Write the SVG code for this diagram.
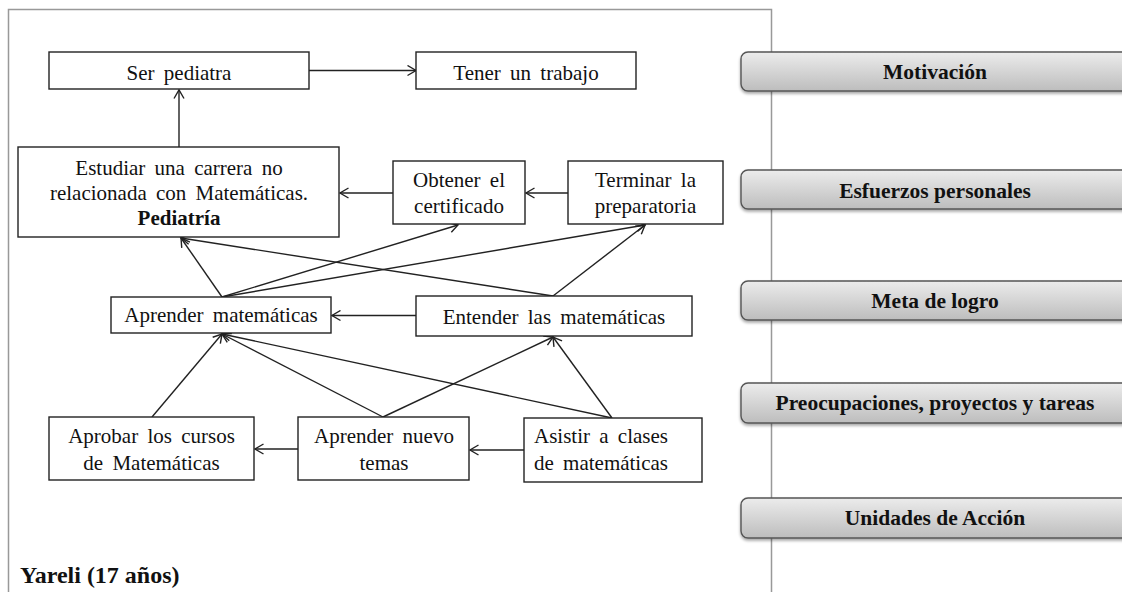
<svg xmlns="http://www.w3.org/2000/svg" width="1122" height="592" viewBox="0 0 1122 592">
  <defs>
    <marker id="open-arrow" markerUnits="userSpaceOnUse" markerWidth="12" markerHeight="12" refX="10" refY="6" orient="auto">
      <path d="M1.5,1 L10,6 L1.5,11" fill="none" stroke="#222" stroke-width="1.4"/>
    </marker>
    <linearGradient id="bar-fill" x1="0" y1="0" x2="0" y2="1">
      <stop offset="0" stop-color="#ececec"/>
      <stop offset="1" stop-color="#bdbdbd"/>
    </linearGradient>
    <filter id="bar-shadow" x="-5%" y="-20%" width="110%" height="160%">
      <feGaussianBlur in="SourceAlpha" stdDeviation="1.5"/>
      <feOffset dy="2" result="b"/>
      <feComponentTransfer><feFuncA type="linear" slope="0.35"/></feComponentTransfer>
      <feMerge><feMergeNode/><feMergeNode in="SourceGraphic"/></feMerge>
    </filter>
  </defs>
  <style>
    .box { fill: #fff; stroke: #222; stroke-width: 1.4; }
    .t { font-family: "Liberation Serif", "Times New Roman", serif; font-size: 21px; fill: #111; text-anchor: middle; word-spacing: 4px; }
    .ts { text-anchor: start; }
    .b { font-weight: bold; }
    .bar { fill: url(#bar-fill); stroke: #555; stroke-width: 1.4; filter: url(#bar-shadow); }
    .bt { font-family: "Liberation Serif", "Times New Roman", serif; font-size: 21.5px; font-weight: bold; fill: #111; text-anchor: middle; }
    .edge { fill: none; stroke: #222; stroke-width: 1.4; marker-end: url(#open-arrow); }
    .frame { fill: none; stroke: #999; stroke-width: 1.5; }
  </style>

  <rect width="1122" height="592" fill="#fff"/>

  <!-- panel frame (open at the bottom) -->
  <path class="frame" d="M8.5,600 L8.5,9.5 L771.5,9.5 L771.5,600"/>

  <!-- level bars on the right -->
  <g id="level-motivacion">
    <rect class="bar" x="741" y="52" width="400" height="39" rx="7"/>
    <text class="bt" x="935" y="79">Motivación</text>
  </g>
  <g id="level-esfuerzos">
    <rect class="bar" x="741" y="170" width="400" height="39" rx="7"/>
    <text class="bt" x="935" y="198">Esfuerzos personales</text>
  </g>
  <g id="level-meta">
    <rect class="bar" x="741" y="281" width="400" height="39" rx="7"/>
    <text class="bt" x="935" y="308">Meta de logro</text>
  </g>
  <g id="level-preocupaciones">
    <rect class="bar" x="741" y="383" width="400" height="40" rx="7"/>
    <text class="bt" x="935" y="410">Preocupaciones, proyectos y tareas</text>
  </g>
  <g id="level-unidades">
    <rect class="bar" x="741" y="498" width="400" height="40" rx="7"/>
    <text class="bt" x="935" y="525">Unidades de Acción</text>
  </g>

  <!-- connectors -->
  <g id="connectors">
    <line class="edge" x1="309" y1="70.5" x2="416" y2="70.5"/>
    <line class="edge" x1="179" y1="147" x2="179" y2="90"/>
    <line class="edge" x1="393" y1="193" x2="340" y2="193"/>
    <line class="edge" x1="568" y1="193" x2="526" y2="193"/>
    <!-- Aprender matemáticas upward -->
    <line class="edge" x1="222" y1="297" x2="181" y2="238"/>
    <line class="edge" x1="222" y1="297" x2="458" y2="225"/>
    <line class="edge" x1="222" y1="297" x2="645" y2="225"/>
    <!-- Entender las matemáticas upward -->
    <line class="edge" x1="553" y1="296" x2="181" y2="238"/>
    <line class="edge" x1="553" y1="296" x2="645" y2="225"/>
    <line class="edge" x1="416" y1="315.5" x2="332" y2="315.5"/>
    <!-- bottom row upward -->
    <line class="edge" x1="152" y1="417" x2="222" y2="334"/>
    <line class="edge" x1="383" y1="417" x2="222" y2="334"/>
    <line class="edge" x1="383" y1="417" x2="553" y2="337"/>
    <line class="edge" x1="612" y1="418" x2="553" y2="337"/>
    <line class="edge" x1="612" y1="418" x2="222" y2="334"/>
    <line class="edge" x1="298" y1="449" x2="255" y2="449"/>
    <line class="edge" x1="524" y1="450" x2="470" y2="450"/>
  </g>

  <!-- nodes -->
  <g id="ser-pediatra">
    <rect class="box" x="49" y="52" width="260" height="37"/>
    <text class="t" x="179" y="80">Ser pediatra</text>
  </g>
  <g id="tener-trabajo">
    <rect class="box" x="416" y="52" width="220" height="37"/>
    <text class="t" x="526" y="80">Tener un trabajo</text>
  </g>
  <g id="estudiar-carrera">
    <rect class="box" x="18" y="147" width="321" height="90"/>
    <text class="t" x="179" y="175">Estudiar una carrera no</text>
    <text class="t" x="179" y="200">relacionada con Matemáticas.</text>
    <text class="t b" x="179" y="225">Pediatría</text>
  </g>
  <g id="obtener-certificado">
    <rect class="box" x="393" y="161" width="132" height="63"/>
    <text class="t" x="459" y="187">Obtener el</text>
    <text class="t" x="459" y="213">certificado</text>
  </g>
  <g id="terminar-preparatoria">
    <rect class="box" x="568" y="161" width="155" height="63"/>
    <text class="t" x="645.5" y="187">Terminar la</text>
    <text class="t" x="645.5" y="213">preparatoria</text>
  </g>
  <g id="aprender-matematicas">
    <rect class="box" x="111" y="297" width="220" height="36"/>
    <text class="t" x="221" y="322">Aprender matemáticas</text>
  </g>
  <g id="entender-matematicas">
    <rect class="box" x="416" y="296" width="276" height="40"/>
    <text class="t" x="554" y="324">Entender las matemáticas</text>
  </g>
  <g id="aprobar-cursos">
    <rect class="box" x="49" y="417" width="205" height="63"/>
    <text class="t" x="151.5" y="443">Aprobar los cursos</text>
    <text class="t" x="151.5" y="470">de Matemáticas</text>
  </g>
  <g id="aprender-temas">
    <rect class="box" x="298" y="417" width="171" height="63"/>
    <text class="t" x="384" y="443">Aprender nuevo</text>
    <text class="t" x="384" y="470">temas</text>
  </g>
  <g id="asistir-clases">
    <rect class="box" x="524" y="418" width="178" height="64"/>
    <text class="t ts" x="534" y="443">Asistir a clases</text>
    <text class="t ts" x="534" y="470">de matemáticas</text>
  </g>

  <text id="subject" x="20" y="583" font-family="'Liberation Serif', 'Times New Roman', serif" font-size="24" font-weight="bold" fill="#111">Yareli (17 años)</text>
</svg>
